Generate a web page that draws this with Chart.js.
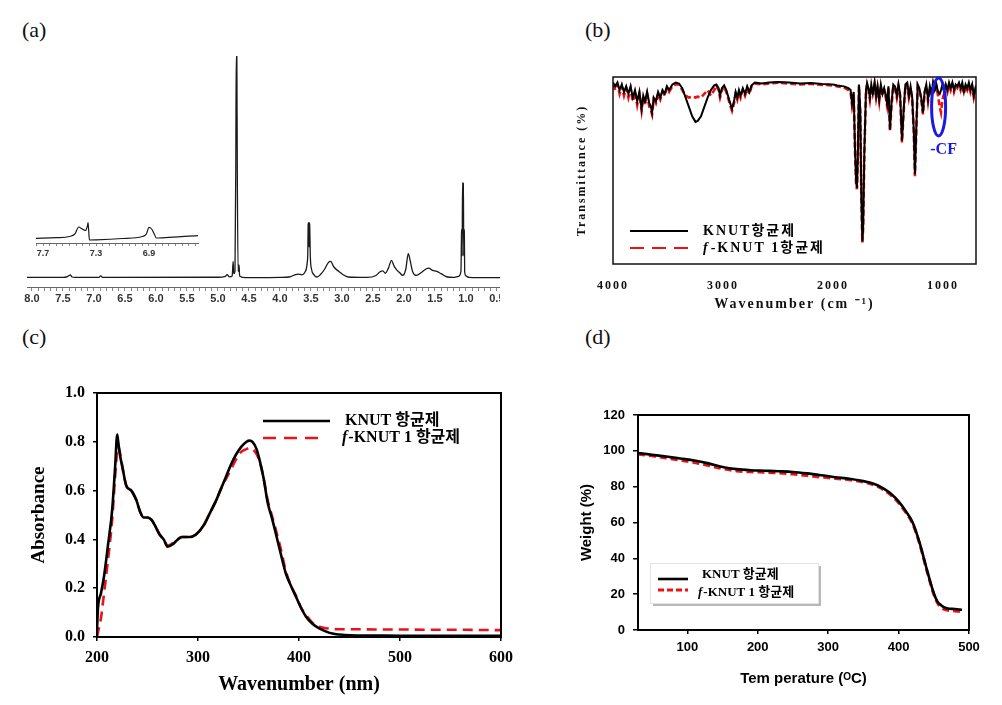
<!DOCTYPE html>
<html lang="ko">
<head>
<meta charset="UTF-8">
<title>KNUT 항균제 spectra</title>
<script src="https://cdn.jsdelivr.net/npm/chart.js"></script>
<style>
  body { margin: 0; background: #fff; width: 1002px; height: 705px; position: relative; overflow: hidden; }
  canvas { position: absolute; }
  .tag { position: absolute; font: 22px 'Liberation Serif', serif; color: #111; line-height: 1; }
</style>
</head>
<body>
<div class="tag" style="left:22px;top:19px">(a)</div>
<div class="tag" style="left:585px;top:19px">(b)</div>
<div class="tag" style="left:22px;top:326px">(c)</div>
<div class="tag" style="left:585px;top:326px">(d)</div>

<canvas id="nmr" width="500" height="270" style="left:0;top:40px"></canvas>
<canvas id="nmrInset" width="175" height="50" style="left:30px;top:213px"></canvas>
<canvas id="ir" width="432" height="260" style="left:570px;top:60px"></canvas>
<canvas id="uv" width="530" height="320" style="left:0;top:380px"></canvas>
<canvas id="tga" width="432" height="300" style="left:570px;top:400px"></canvas>

<script>
// ---- data ----
// (a) 1H NMR: [ppm, intensity]
const nmrSpectrum = [
  [8.08,0.3],[7.5,0.3],[7.42,0.8],[7.40,1.2],[7.38,1.5],[7.36,0.6],[7.30,0.3],[6.92,0.3],[6.89,1.0],[6.86,0.3],
  [5.0,0.4],[4.88,0.8],[4.85,1.6],[4.82,0.6],[4.77,1.0],[4.755,7.5],[4.745,2],[4.725,3],[4.712,50],[4.705,100],
  [4.695,100],[4.688,50],[4.675,3],[4.66,6],[4.65,1],[4.55,0.2],[4.3,0.2],[4.0,0.3],[3.85,0.5],[3.75,1.6],
  [3.70,1.8],[3.65,1.5],[3.60,2.5],[3.56,7],[3.55,12],[3.545,24],[3.54,25],[3.535,24],[3.53,14],[3.525,25],
  [3.52,24],[3.51,10],[3.49,4],[3.45,1.5],[3.40,0.5],[3.35,1.5],[3.28,4],[3.22,7],[3.18,7.5],[3.13,5],
  [3.05,3],[2.98,1.5],[2.9,0.5],[2.6,0.3],[2.45,1.2],[2.38,3],[2.34,3.3],[2.30,2.2],[2.25,4.5],[2.20,8],
  [2.16,5.5],[2.12,3.8],[2.07,2.5],[2.02,1.2],[1.97,4],[1.93,11],[1.90,8],[1.86,3],[1.80,1.2],[1.72,2.5],
  [1.65,4],[1.60,4.5],[1.54,3.5],[1.47,3],[1.40,2],[1.30,0.5],[1.20,0.3],[1.12,0.8],[1.08,3],[1.07,21],
  [1.065,22],[1.06,10],[1.055,43],[1.05,42],[1.045,20],[1.04,43],[1.035,10],[1.03,22],[1.025,21],[1.02,3],
  [1.0,1],[0.95,0.3],[0.8,0.2],[0.45,0.2]
];
const nmrInsetData = [
  [7.753,4.7],[7.6,5.3],[7.5,6.5],[7.46,9],[7.43,16],[7.41,14.5],[7.38,12.5],[7.365,17],[7.36,20.3],[7.355,12],
  [7.35,3],[7.3,3.2],[7.1,4.5],[6.95,6.5],[6.92,9],[6.90,15.7],[6.88,14],[6.86,9],[6.845,5],[6.8,5.2],
  [6.6,6.8],[6.53,7.3]
];
const insetLabels = [7.7, 7.3, 6.9];

// (b) FT-IR: [wavenumber, transmittance]
const irKnut = [
  [4000,97],[3980,95],[3960,97],[3940,93],[3920,96],[3900,92],[3880,95],[3860,91],[3840,95],[3820,89],
  [3800,93],[3780,87],[3760,92],[3740,83],[3725,90],[3710,87],[3690,92],[3670,86],[3655,84],[3645,81],
  [3630,89],[3610,87],[3590,92],[3570,89],[3550,93],[3530,91],[3510,95],[3490,93],[3460,96],[3430,97],
  [3400,96.5],[3370,94],[3340,89],[3310,84],[3280,79],[3250,76],[3230,76.5],[3200,79],[3170,84],[3140,89],
  [3110,93],[3080,95.5],[3060,96],[3040,94],[3027,90],[3010,94],[2990,95.5],[2970,93],[2950,89],[2935,86],
  [2918,83],[2900,87],[2885,92],[2870,89],[2855,93],[2840,90],[2820,94],[2800,91],[2780,95],[2760,92],
  [2740,95.5],[2710,97],[2650,96.5],[2580,97],[2500,97.3],[2400,97],[2300,96.5],[2200,96.8],[2100,96.2],[2000,96],
  [1960,95.5],[1900,95],[1860,94],[1840,93],[1827,86],[1812,92],[1800,62],[1790,44],[1782,40.6],[1774,58],
  [1764,96],[1752,82],[1742,35],[1733,12],[1726,20],[1715,60],[1700,93],[1690,96.5],[1678,94],[1665,89],
  [1652,96],[1638,91],[1622,97],[1608,90],[1595,95],[1580,88],[1565,96],[1550,91],[1535,94],[1520,90],
  [1509,86],[1496,95],[1482,72],[1468,86],[1452,96],[1436,95],[1420,90],[1405,96],[1390,91],[1373,66],
  [1358,82],[1342,96],[1326,97],[1310,90],[1295,95],[1280,89],[1266,72],[1255,48],[1244,70],[1230,96],
  [1215,94],[1198,89],[1182,81],[1168,92],[1152,96],[1136,88],[1120,95],[1105,91],[1090,97],[1075,93],
  [1060,96],[1045,92],[1030,91],[1018,93],[1005,96],[990,92],[975,96],[960,93],[945,97],[930,94],
  [915,97],[900,93],[885,96],[870,95],[855,97],[840,94],[825,97],[810,92],[795,96],[780,94],
  [765,97],[750,93],[735,96],[720,90],[705,94],[700,93]
];
const irFknut = [
  [4000,96],[3980,93],[3960,96],[3940,91],[3920,95],[3900,90],[3880,94],[3860,89],[3840,94],[3820,87],
  [3800,92],[3780,85],[3760,91],[3740,82],[3725,89],[3710,85],[3690,91],[3670,84],[3655,82],[3645,80],
  [3630,88],[3610,86],[3590,91],[3570,88],[3550,92],[3530,90],[3510,94],[3490,92],[3460,95],[3430,96],
  [3400,96],[3370,93],[3340,90],[3310,89],[3280,89.5],[3250,89],[3230,89.5],[3200,89],[3170,91],[3140,93],
  [3110,90],[3080,93],[3060,95.5],[3040,93],[3027,89],[3010,93],[2990,95],[2970,92],[2950,88],[2935,85],
  [2918,82],[2900,86],[2885,91],[2870,88],[2855,92],[2840,89],[2820,93],[2800,90],[2780,94],[2760,91],
  [2740,95],[2710,96.5],[2650,96],[2580,96.5],[2500,97],[2400,96.5],[2300,96],[2200,96.3],[2100,95.8],[2000,95.5],
  [1960,95],[1900,94.5],[1860,93],[1840,92],[1827,85],[1812,91],[1800,61],[1790,43],[1782,40],[1774,57],
  [1764,95],[1752,81],[1742,34],[1733,11.5],[1726,19],[1715,59],[1700,92],[1690,96],[1678,93],[1665,88],
  [1652,95],[1638,90],[1622,96],[1608,89],[1595,94],[1580,87],[1565,95],[1550,90],[1535,93],[1520,89],
  [1509,85],[1496,94],[1482,71],[1468,85],[1452,95],[1436,94],[1420,89],[1405,95],[1390,90],[1373,65],
  [1358,81],[1342,95],[1326,96],[1310,89],[1295,94],[1280,88],[1266,71],[1255,47],[1244,69],[1230,95],
  [1215,93],[1198,88],[1182,80],[1168,91],[1152,95],[1136,87],[1120,94],[1105,90],[1090,96],[1075,92],
  [1060,95],[1045,90],[1030,84],[1018,81],[1005,88],[990,91],[975,95],[960,92],[945,96],[930,93],
  [915,96],[900,92],[885,95],[870,94],[855,96],[840,93],[825,96],[810,91],[795,95],[780,93],
  [765,96],[750,92],[735,95],[720,89],[705,93],[700,92]
];
const irTicks = [4000, 3000, 2000, 1000];

// (c) UV-vis
const uvNm = [200,201,204,207,211,215,218,220,221,223,225,229,234,239,243,246,250,254,257,262,
  266,270,275,280,284,292,298,306,312,318,323,328,333,338,343,348,351,354,358,361,
  365,369,373,377,382,387,392,397,402,407,413,420,427,433,440,450,475,500,525,550,575,600];
const uvKnut = [0.03,0.12,0.18,0.25,0.38,0.52,0.70,0.83,0.80,0.74,0.70,0.62,0.60,0.56,0.51,0.49,0.49,0.48,0.46,0.42,
  0.40,0.37,0.38,0.40,0.41,0.41,0.42,0.46,0.51,0.56,0.61,0.66,0.71,0.75,0.78,0.80,0.805,0.80,0.77,0.725,
  0.65,0.55,0.49,0.425,0.34,0.26,0.21,0.165,0.12,0.083,0.055,0.035,0.022,0.014,0.01,0.007,0.006,0.005,0.005,0.005,0.005,0.005];
const uvFknut = [0.0,0.02,0.08,0.18,0.32,0.48,0.66,0.76,0.78,0.75,0.70,0.62,0.60,0.56,0.51,0.49,0.49,0.48,0.46,0.42,
  0.40,0.375,0.385,0.40,0.41,0.41,0.42,0.46,0.51,0.56,0.61,0.65,0.69,0.73,0.76,0.77,0.775,0.77,0.75,0.72,
  0.65,0.56,0.50,0.44,0.36,0.27,0.21,0.17,0.12,0.09,0.06,0.042,0.036,0.033,0.032,0.032,0.031,0.031,0.03,0.03,0.029,0.028];
const uvXTicks = [200, 300, 400, 500, 600];
const uvYTicks = [0, 0.2, 0.4, 0.6, 0.8, 1.0];

// (d) TGA
const tgaTemp = [30,50,70,90,110,130,150,170,190,210,230,250,270,290,310,330,350,360,370,380,
  390,400,410,420,430,440,450,455,460,465,470,480,490];
const tgaKnut = [98.8,97.8,96.8,95.7,94.6,93.0,91.0,89.8,89.2,88.9,88.6,88.2,87.4,86.4,85.3,84.4,83.1,82.2,80.8,78.6,
  75.8,71.8,66.5,60.0,48.5,34.0,20.5,16.0,13.9,12.6,12.0,11.7,11.3];
const tgaFknut = [98.2,97.2,96.0,94.8,93.5,91.8,90.0,88.8,88.3,88.0,87.6,87.0,86.2,85.3,84.6,83.8,82.6,81.6,80.1,78.0,
  75.0,71.0,65.8,59.3,48.0,33.5,20.0,15.3,12.6,11.5,11.0,10.6,10.3];
const tgaXTicks = [100, 200, 300, 400, 500];
const tgaYTicks = [0, 20, 40, 60, 80, 100, 120];

const labelKnut = 'KNUT 항균제';
const labelFknut = 'f-KNUT 1 항균제';

// ---- helpers / plugins ----
const SERIF = "'Liberation Serif', 'Noto Sans CJK KR', serif";
const SANS = "'Liberation Sans', Arial, 'Noto Sans CJK KR', sans-serif";

Chart.defaults.animation = false;
Chart.defaults.responsive = false;
Chart.defaults.devicePixelRatio = 1;
Chart.defaults.plugins.legend.display = false;
Chart.defaults.plugins.tooltip.enabled = false;
Chart.defaults.elements.point.radius = 0;

function fitBox(size) {
  return scale => {
    if (scale.isHorizontal()) scale.height = size; else scale.width = size;
    scale.paddingLeft = scale.paddingRight = scale.paddingTop = scale.paddingBottom = 0;
  };
}
function fixedTicks(values) {
  return scale => { scale.ticks = values.map(v => ({ value: v })); };
}
const pts = arr => arr.map(p => ({ x: p[0], y: p[1] }));
const zip = (xs, ys) => xs.map((x, i) => ({ x: x, y: ys[i] }));
const plain = v => String(v);

const framePlugin = {
  id: 'frame',
  afterDatasetsDraw(chart, args, o) {
    if (!o.width) return;
    const { ctx, chartArea: a } = chart;
    ctx.save();
    ctx.strokeStyle = o.color || '#000';
    ctx.lineWidth = o.width;
    ctx.strokeRect(a.left, a.top, a.right - a.left, a.bottom - a.top);
    ctx.restore();
  }
};

const cfMark = {
  id: 'cfMark',
  afterDatasetsDraw(chart, args, o) {
    if (o.wn === undefined) return;
    const ctx = chart.ctx;
    const x = chart.scales.x.getPixelForValue(o.wn);
    const y = chart.scales.y.getPixelForValue(o.t);
    ctx.save();
    ctx.letterSpacing = '0px';
    ctx.strokeStyle = o.color;
    ctx.lineWidth = 3;
    ctx.beginPath();
    ctx.ellipse(x, y, o.rx, o.ry, 0, 0, Math.PI * 2);
    ctx.stroke();
    ctx.fillStyle = o.color;
    ctx.font = o.font;
    ctx.textAlign = 'center';
    ctx.textBaseline = 'middle';
    ctx.fillText(o.text, x + o.dx, y + o.dy);
    ctx.restore();
  }
};

const boxLegend = {
  id: 'boxLegend',
  afterDraw(chart, args, o) {
    if (!o.rows) return;
    const ctx = chart.ctx;
    ctx.save();
    ctx.letterSpacing = (o.spacing || 0) + 'px';
    if (o.box) {
      const b = o.box;
      ctx.fillStyle = '#b8b8b8';
      ctx.fillRect(b.x + 3, b.y + 3, b.w, b.h);
      ctx.fillStyle = '#fff';
      ctx.fillRect(b.x, b.y, b.w, b.h);
      ctx.strokeStyle = '#e4e4e4';
      ctx.lineWidth = 1;
      ctx.strokeRect(b.x + 0.5, b.y + 0.5, b.w, b.h);
    }
    chart.data.datasets.forEach((ds, i) => {
      const r = o.rows[i];
      ctx.strokeStyle = ds.borderColor;
      ctx.lineWidth = r.width || ds.borderWidth;
      ctx.setLineDash(r.dash || ds.borderDash || []);
      ctx.beginPath();
      ctx.moveTo(r.x0, r.y);
      ctx.lineTo(r.x1, r.y);
      ctx.stroke();
      ctx.setLineDash([]);
      ctx.fillStyle = '#000';
      ctx.textBaseline = 'middle';
      const ty = r.ty !== undefined ? r.ty : r.y;
      let x = r.tx;
      let label = ds.label;
      if (label.startsWith('f-')) {
        ctx.font = 'italic ' + o.font;
        ctx.fillText('f', x, ty);
        x += ctx.measureText('f').width + 1;
        label = label.slice(1);
      }
      ctx.font = o.font;
      ctx.fillText(label, x, ty);
    });
    ctx.restore();
  }
};

const spacing = {
  id: 'spacing',
  beforeDraw(chart, args, o) { if (o.px) chart.ctx.letterSpacing = o.px + 'px'; },
  afterDraw(chart) { chart.ctx.letterSpacing = '0px'; }
};

Chart.register(framePlugin, cfMark, boxLegend, spacing);

// ---- (a) NMR ----
const nmrTicks = [];
for (let i = 5; i <= 80; i++) nmrTicks.push(i / 10);

new Chart(document.getElementById('nmr'), {
  type: 'line',
  data: { datasets: [{ data: pts(nmrSpectrum), borderColor: '#1a1a1a', borderWidth: 1.3, cubicInterpolationMode: 'monotone' }] },
  options: {
    layout: { padding: { left: 27, right: 0, top: 16, bottom: 0 } },
    scales: {
      x: {
        type: 'linear', reverse: true, min: 0.45, max: 8.08,
        afterBuildTicks: fixedTicks(nmrTicks),
        afterFit: fitBox(23),
        border: { display: true, color: '#666', width: 1 },
        grid: { drawOnChartArea: false, tickLength: 4, color: '#888' },
        ticks: {
          autoSkip: false, maxRotation: 0, padding: 1, color: '#333',
          font: { family: SANS, size: 11, weight: 'bold' },
          callback: v => (Math.round(v * 10) % 5 === 0 ? v.toFixed(1) : '')
        }
      },
      y: { display: false, min: -4, max: 100 }
    }
  }
});

const insetTicks = [];
for (let i = 131; i <= 155; i++) insetTicks.push(i / 20);

new Chart(document.getElementById('nmrInset'), {
  type: 'line',
  data: { datasets: [{ data: pts(nmrInsetData), borderColor: '#1a1a1a', borderWidth: 1.2, cubicInterpolationMode: 'monotone' }] },
  options: {
    layout: { padding: { left: 6, right: 7, top: 4, bottom: 0 } },
    scales: {
      x: {
        type: 'linear', reverse: true, min: 6.53, max: 7.753,
        afterBuildTicks: fixedTicks(insetTicks),
        afterFit: fitBox(20),
        border: { display: true, color: '#666', width: 1 },
        grid: { drawOnChartArea: false, tickLength: 3, color: '#888' },
        ticks: {
          autoSkip: false, maxRotation: 0, padding: 2, color: '#333',
          font: { family: SANS, size: 9, weight: 'bold' },
          callback: v => (insetLabels.some(l => Math.abs(l - v) < 1e-6) ? v.toFixed(1) : '')
        }
      },
      y: { display: false, min: 0, max: 26 }
    }
  }
});

// ---- (b) FT-IR ----
new Chart(document.getElementById('ir'), {
  type: 'line',
  data: {
    datasets: [
      { label: 'KNUT항균제', data: pts(irKnut), borderColor: '#000', borderWidth: 2, tension: 0 },
      { label: 'f-KNUT 1항균제', data: pts(irFknut), borderColor: '#ee1111', borderWidth: 2.6, borderDash: [6, 3], tension: 0 }
    ]
  },
  options: {
    layout: { padding: { left: 0, right: 26, top: 17, bottom: 0 } },
    scales: {
      x: {
        type: 'linear', reverse: true, min: 700, max: 4000,
        afterBuildTicks: fixedTicks(irTicks),
        afterFit: fitBox(56),
        border: { display: false },
        grid: { display: false },
        ticks: { padding: 7, color: '#111', font: { family: SERIF, size: 12, weight: 'bold' }, callback: plain },
        title: { display: true, text: 'Wavenumber (cm ⁻¹)', color: '#111', padding: { top: 0, bottom: 7 },
          font: { family: SERIF, size: 14, weight: 'bold' } }
      },
      y: {
        min: 0, max: 100,
        afterFit: fitBox(43),
        border: { display: false },
        grid: { display: false },
        ticks: { display: false },
        title: { display: true, text: 'Transmittance (%)', color: '#111', padding: { top: 5, bottom: 0 },
          font: { family: SERIF, size: 12, weight: 'bold' } }
      }
    },
    plugins: {
      frame: { width: 1.5, color: '#111' },
      cfMark: { wn: 1040, t: 84, rx: 7, ry: 29, dx: 5, dy: 43, text: '-CF', color: '#1a1ae6',
        font: 'bold 16px ' + SERIF },
      boxLegend: {
        font: 'bold 14px ' + SERIF, spacing: 2,
        rows: [
          { y: 171, x0: 60, x1: 118, tx: 133 },
          { y: 188, x0: 60, x1: 118, tx: 133, dash: [14, 8], width: 2 }
        ]
      },
      spacing: { px: 2 }
    }
  }
});

// ---- (c) UV-vis ----
new Chart(document.getElementById('uv'), {
  type: 'line',
  data: {
    datasets: [
      { label: labelKnut, data: zip(uvNm, uvKnut), borderColor: '#000', borderWidth: 2.6, cubicInterpolationMode: 'monotone' },
      { label: labelFknut, data: zip(uvNm, uvFknut), borderColor: '#e8141c', borderWidth: 2.6, borderDash: [10, 6], cubicInterpolationMode: 'monotone' }
    ]
  },
  options: {
    layout: { padding: { left: 0, right: 29, top: 13, bottom: 0 } },
    scales: {
      x: {
        type: 'linear', min: 200, max: 600,
        afterBuildTicks: fixedTicks(uvXTicks),
        afterFit: fitBox(63),
        border: { display: false },
        grid: { drawOnChartArea: false, tickLength: 4, color: '#000', lineWidth: 1.5 },
        ticks: { padding: 7, color: '#000', font: { family: SERIF, size: 16, weight: 'bold' }, callback: plain },
        title: { display: true, text: 'Wavenumber (nm)', color: '#000', padding: { top: 0, bottom: 3 },
          font: { family: SERIF, size: 20, weight: 'bold' } }
      },
      y: {
        min: 0, max: 1,
        afterBuildTicks: fixedTicks(uvYTicks),
        afterFit: fitBox(97),
        border: { display: false },
        grid: { drawOnChartArea: false, tickLength: 4, color: '#000', lineWidth: 1.5 },
        ticks: { padding: 8, color: '#000', font: { family: SERIF, size: 16, weight: 'bold' },
          callback: v => v.toFixed(1) },
        title: { display: true, text: 'Absorbance', color: '#000', padding: { top: 28, bottom: 0 },
          font: { family: SERIF, size: 19, weight: 'bold' } }
      }
    },
    plugins: {
      frame: { width: 2, color: '#000' },
      boxLegend: {
        font: 'bold 16px ' + SERIF,
        rows: [
          { y: 41, x0: 263, x1: 330, tx: 345 },
          { y: 58, x0: 263, x1: 322, tx: 342, dash: [13, 8] }
        ]
      }
    }
  }
});

// ---- (d) TGA ----
new Chart(document.getElementById('tga'), {
  type: 'line',
  data: {
    datasets: [
      { label: labelKnut, data: zip(tgaTemp, tgaKnut), borderColor: '#000', borderWidth: 2.6, cubicInterpolationMode: 'monotone' },
      { label: labelFknut, data: zip(tgaTemp, tgaFknut), borderColor: '#ee1111', borderWidth: 3, borderDash: [7, 4], cubicInterpolationMode: 'monotone' }
    ]
  },
  options: {
    layout: { padding: { left: 0, right: 33, top: 15, bottom: 0 } },
    scales: {
      x: {
        type: 'linear', min: 30, max: 500,
        afterBuildTicks: fixedTicks(tgaXTicks),
        afterFit: fitBox(70),
        border: { display: false },
        grid: { drawOnChartArea: false, tickLength: 4, color: '#000', lineWidth: 1.5 },
        ticks: { padding: 6, color: '#000', font: { family: SANS, size: 13, weight: 'bold' }, callback: plain },
        title: { display: true, text: 'Tem perature (ᴼC)', color: '#000', padding: { top: 0, bottom: 12 },
          font: { family: SANS, size: 15, weight: 'bold' } }
      },
      y: {
        min: 0, max: 120,
        afterBuildTicks: fixedTicks(tgaYTicks),
        afterFit: fitBox(68),
        border: { display: false },
        grid: { drawOnChartArea: false, tickLength: 5, color: '#000', lineWidth: 1.5 },
        ticks: { padding: 8, color: '#000', font: { family: SANS, size: 13, weight: 'bold' }, callback: plain },
        title: { display: true, text: 'Weight (%)', color: '#000', padding: { top: 8, bottom: 0 },
          font: { family: SANS, size: 15, weight: 'bold' } }
      }
    },
    plugins: {
      frame: { width: 2, color: '#000' },
      boxLegend: {
        font: 'bold 13px ' + SERIF,
        box: { x: 80, y: 163, w: 168, h: 40 },
        rows: [
          { y: 179, ty: 175, x0: 88, x1: 118, tx: 132 },
          { y: 190, ty: 193, x0: 88, x1: 118, tx: 128, dash: [6, 3] }
        ]
      }
    }
  }
});
</script>
</body>
</html>
